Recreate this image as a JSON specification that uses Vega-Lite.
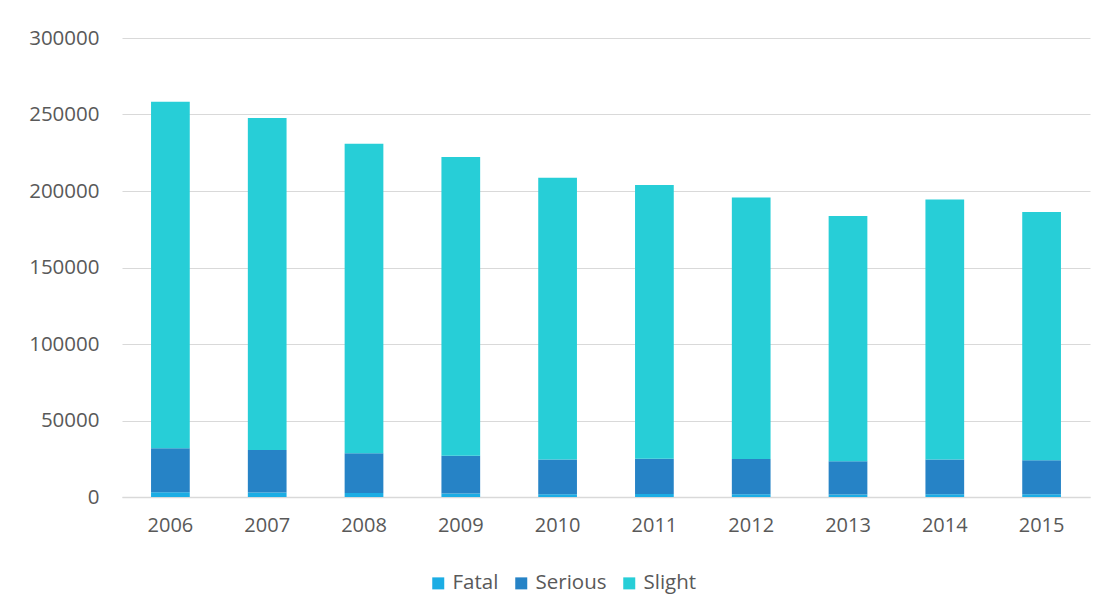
{
  "$schema": "https://vega.github.io/schema/vega-lite/v6.json",
  "autosize": "none",
  "width": 968,
  "height": 459,
  "padding": {"left": 122, "top": 38, "right": 23, "bottom": 116},
  "background": "white",
  "config": {
    "view": {"stroke": null},
    "font": "Open Sans"
  },
  "data": {
    "values": [
      {"year": "2006", "severity": "Fatal", "ord": 1, "value": 3172},
      {"year": "2006", "severity": "Serious", "ord": 2, "value": 28673},
      {"year": "2006", "severity": "Slight", "ord": 3, "value": 226559},
      {"year": "2007", "severity": "Fatal", "ord": 1, "value": 2946},
      {"year": "2007", "severity": "Serious", "ord": 2, "value": 27774},
      {"year": "2007", "severity": "Slight", "ord": 3, "value": 217060},
      {"year": "2008", "severity": "Fatal", "ord": 1, "value": 2538},
      {"year": "2008", "severity": "Serious", "ord": 2, "value": 26034},
      {"year": "2008", "severity": "Slight", "ord": 3, "value": 202333},
      {"year": "2009", "severity": "Fatal", "ord": 1, "value": 2222},
      {"year": "2009", "severity": "Serious", "ord": 2, "value": 24690},
      {"year": "2009", "severity": "Slight", "ord": 3, "value": 195234},
      {"year": "2010", "severity": "Fatal", "ord": 1, "value": 1850},
      {"year": "2010", "severity": "Serious", "ord": 2, "value": 22660},
      {"year": "2010", "severity": "Slight", "ord": 3, "value": 184138},
      {"year": "2011", "severity": "Fatal", "ord": 1, "value": 1901},
      {"year": "2011", "severity": "Serious", "ord": 2, "value": 23122},
      {"year": "2011", "severity": "Slight", "ord": 3, "value": 178927},
      {"year": "2012", "severity": "Fatal", "ord": 1, "value": 1754},
      {"year": "2012", "severity": "Serious", "ord": 2, "value": 23039},
      {"year": "2012", "severity": "Slight", "ord": 3, "value": 170930},
      {"year": "2013", "severity": "Fatal", "ord": 1, "value": 1713},
      {"year": "2013", "severity": "Serious", "ord": 2, "value": 21657},
      {"year": "2013", "severity": "Slight", "ord": 3, "value": 160300},
      {"year": "2014", "severity": "Fatal", "ord": 1, "value": 1775},
      {"year": "2014", "severity": "Serious", "ord": 2, "value": 22807},
      {"year": "2014", "severity": "Slight", "ord": 3, "value": 169895},
      {"year": "2015", "severity": "Fatal", "ord": 1, "value": 1730},
      {"year": "2015", "severity": "Serious", "ord": 2, "value": 22371},
      {"year": "2015", "severity": "Slight", "ord": 3, "value": 162108}
    ]
  },
  "mark": {"type": "bar"},
  "encoding": {
    "x": {
      "field": "year",
      "type": "nominal",
      "scale": {"paddingInner": 0.6, "paddingOuter": 0.3},
      "axis": {
        "title": null,
        "labelAngle": 0,
        "ticks": false,
        "domainColor": "#D9D9D9",
        "domainWidth": 1.5,
        "labelColor": "#595959",
        "labelFontSize": 20,
        "labelPadding": 18,
        "grid": false
      }
    },
    "y": {
      "field": "value",
      "type": "quantitative",
      "aggregate": "sum",
      "stack": "zero",
      "scale": {"domain": [0, 300000], "nice": false},
      "axis": {
        "title": null,
        "values": [0, 50000, 100000, 150000, 200000, 250000, 300000],
        "format": "d",
        "domain": false,
        "ticks": false,
        "gridColor": "#D9D9D9",
        "gridWidth": 1.2,
        "labelColor": "#595959",
        "labelFontSize": 20.5,
        "labelPadding": 23
      }
    },
    "color": {
      "field": "severity",
      "type": "nominal",
      "scale": {"domain": ["Fatal", "Serious", "Slight"], "range": ["#1CADE4", "#2683C6", "#27CED7"]},
      "legend": {
        "title": null,
        "orient": "none",
        "legendX": 306,
        "legendY": 535,
        "direction": "horizontal",
        "symbolType": "square",
        "symbolSize": 144,
        "symbolStrokeWidth": 0,
        "symbolOffset": 0,
        "labelFontSize": 20.5,
        "labelColor": "#595959",
        "labelOffset": 4,
        "columnPadding": 12
      }
    },
    "order": {"field": "ord", "type": "quantitative"}
  }
}
